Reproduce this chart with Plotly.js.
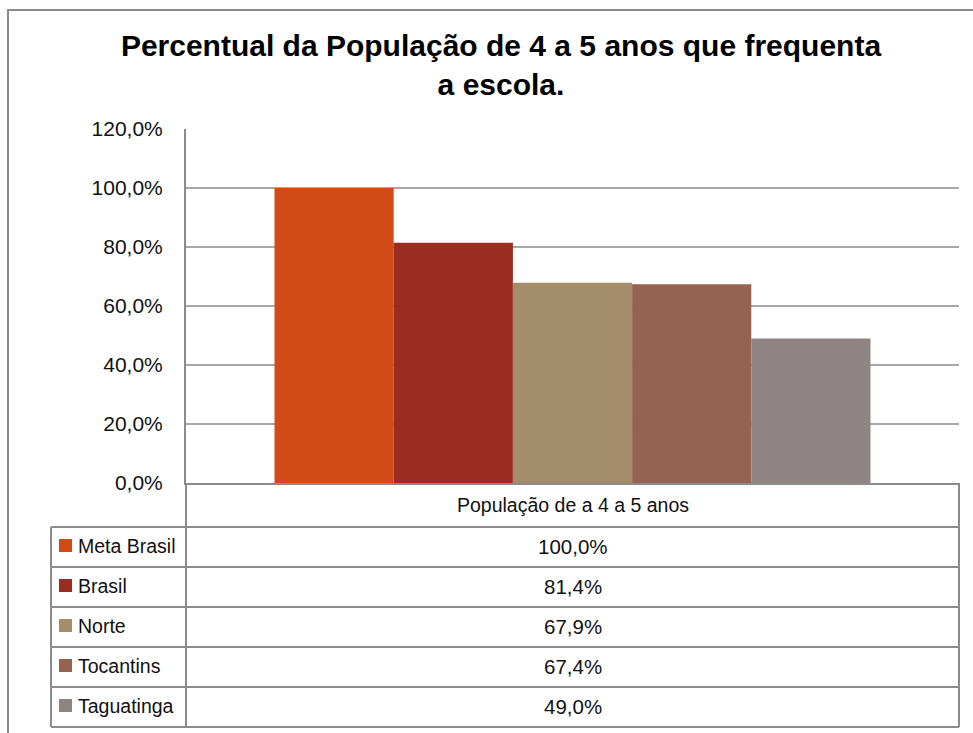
<!DOCTYPE html>
<html>
<head>
<meta charset="utf-8">
<script src="https://cdn.plot.ly/plotly-3.0.1.min.js"></script>
<style>
  html, body { margin: 0; padding: 0; background: #ffffff; }
  #chart { width: 973px; height: 733px; }
</style>
</head>
<body>
<div id="chart"></div>
<script>
// ---- data ----
const titleText = "Percentual da População de 4 a 5 anos que frequenta<br>a escola.";
const category = ["População de a 4 a 5 anos"];
const series = ["Meta Brasil", "Brasil", "Norte", "Tocantins", "Taguatinga"];
const values = [1.000, 0.814, 0.679, 0.674, 0.490];
const yTicks = [0, 0.2, 0.4, 0.6, 0.8, 1.0, 1.2];

// ---- styles ----
const seriesColors = ["#D34A19", "#9B2D20", "#A38D6A", "#956351", "#8F8383"];
const FONT = "Liberation Sans, Arial, sans-serif";
const TEXT = "#111111";
const LINE = "#8c8c8c";
const GRID = "#a8a8a8";

// page geometry (pixels) -> paper coordinates
const W = 973, H = 733;
const M = { l: 186, r: 14, t: 129, b: 250 };
const pw = W - M.l - M.r, ph = H - M.t - M.b;
const px = p => (p - M.l) / pw;
const py = p => (H - M.b - p) / ph;

const fmt = v => (v * 100).toFixed(1).replace(".", ",") + "%";

const traces = series.map((name, i) => ({
  type: "bar",
  name: name,
  x: category,
  y: [values[i]],
  marker: { color: seriesColors[i], line: { width: 0 } },
  hoverinfo: "name+y"
}));

const shapes = [];
const annotations = [];

// outer chart border
shapes.push({ type: "rect", xref: "paper", yref: "paper",
  x0: px(8), x1: px(990), y0: py(10), y1: py(760),
  line: { color: LINE, width: 2 }, fillcolor: "rgba(0,0,0,0)", layer: "below" });

// data table
const tblLeft = 51, axisX = M.l, tblRight = W - M.r;
const headerTop = H - M.b, headerBottom = 527, rowH = 40;
shapes.push({ type: "line", xref: "paper", yref: "paper", x0: px(axisX), x1: px(axisX), y0: py(headerTop), y1: py(headerBottom + rowH * series.length), line: { color: LINE, width: 2 } });
shapes.push({ type: "line", xref: "paper", yref: "paper", x0: px(tblRight), x1: px(tblRight), y0: py(headerTop), y1: py(headerBottom + rowH * series.length), line: { color: LINE, width: 2 } });
shapes.push({ type: "line", xref: "paper", yref: "paper", x0: px(tblLeft), x1: px(tblLeft), y0: py(headerBottom), y1: py(headerBottom + rowH * series.length), line: { color: LINE, width: 2 } });
annotations.push({ xref: "paper", yref: "paper", x: 0.5, y: py((headerTop + headerBottom) / 2),
  text: category[0], showarrow: false, xanchor: "center", yanchor: "middle",
  font: { family: FONT, size: 19.5, color: TEXT } });

for (let i = 0; i <= series.length; i++) {
  const yy = headerBottom + rowH * i;
  shapes.push({ type: "line", xref: "paper", yref: "paper", x0: px(tblLeft), x1: px(tblRight), y0: py(yy), y1: py(yy), line: { color: LINE, width: 2 } });
}
series.forEach((name, i) => {
  const top = headerBottom + rowH * i;
  const mid = top + rowH / 2;
  shapes.push({ type: "rect", xref: "paper", yref: "paper",
    x0: px(59), x1: px(72), y0: py(mid - 8), y1: py(mid + 5),
    fillcolor: seriesColors[i], line: { width: 0 } });
  annotations.push({ xref: "paper", yref: "paper", x: px(76), y: py(mid - 1),
    text: name, showarrow: false, xanchor: "left", yanchor: "middle",
    font: { family: FONT, size: 19.5, color: TEXT } });
  annotations.push({ xref: "paper", yref: "paper", x: 0.5, y: py(mid - 1),
    text: fmt(values[i]), showarrow: false, xanchor: "center", yanchor: "middle",
    font: { family: FONT, size: 20.5, color: TEXT } });
});

const layout = {
  width: W, height: H,
  margin: M,
  paper_bgcolor: "#ffffff",
  plot_bgcolor: "#ffffff",
  separators: ",.",
  showlegend: false,
  barmode: "group",
  bargap: 0.229,
  bargroupgap: 0,
  title: {
    text: titleText,
    x: 501 / W, xref: "container", xanchor: "center",
    y: 1 - 56 / H, yref: "container", yanchor: "middle",
    font: { family: FONT, size: 30, color: "#000000", weight: "bold" }
  },
  xaxis: {
    type: "category",
    showticklabels: false,
    showgrid: false,
    zeroline: false,
    showline: true, linecolor: LINE, linewidth: 2,
    fixedrange: true
  },
  yaxis: {
    range: [0, 1.2],
    tickvals: yTicks,
    tickformat: ".1%",
    showgrid: true, gridcolor: GRID, gridwidth: 2,
    zeroline: false,
    showline: true, linecolor: LINE, linewidth: 2,
    ticks: "",
    ticklabelstandoff: 17,
    tickfont: { family: FONT, size: 21, color: TEXT },
    automargin: false,
    fixedrange: true
  },
  shapes: shapes,
  annotations: annotations
};

Plotly.newPlot("chart", traces, layout, { displayModeBar: false, staticPlot: true });
</script>
</body>
</html>
